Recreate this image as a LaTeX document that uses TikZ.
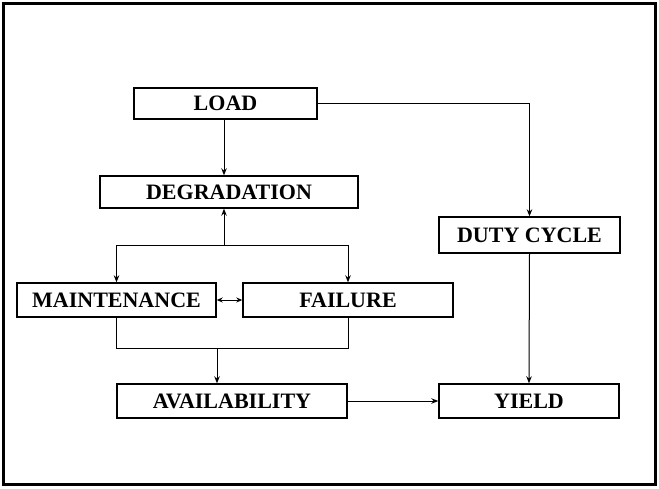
\documentclass[tikz,border=0pt]{standalone}
\usepackage{fontspec}
\setmainfont{Liberation Serif}
\usetikzlibrary{arrows.meta}
\begin{document}
\begin{tikzpicture}[x=1pt,y=-1pt,
  blk/.style={draw,line width=1.4pt,inner sep=0pt,font=\fontsize{22}{24}\selectfont\bfseries},
  arr/.style={line width=1pt,-{Stealth[length=7pt,width=5.5pt]}},
  ln/.style={line width=1pt}]
\useasboundingbox (0,0) rectangle (659,488);
\draw[line width=3pt] (3,3) rectangle (655,484);
\node[blk,minimum width=183pt,minimum height=31pt] (load) at (225.5,103.5) {LOAD};
\node[blk,minimum width=258pt,minimum height=32pt] (degr) at (229,192) {DEGRADATION};
\node[blk,minimum width=199pt,minimum height=34pt] (maint) at (116.5,300) {MAINTENANCE};
\node[blk,minimum width=210pt,minimum height=34pt] (fail) at (348,300) {FAILURE};
\node[blk,minimum width=230pt,minimum height=34pt] (avail) at (232,401) {AVAILABILITY};
\node[blk,minimum width=180pt,minimum height=34pt] (yield) at (529,401) {YIELD};
\node[blk,minimum width=181pt,minimum height=36pt] (duty) at (529.5,235) {DUTY CYCLE};
\coordinate (ld) at (224,119);
\coordinate (sp) at (224,245);
\coordinate (mg) at (217,348);
\draw[arr] (ld) -- (ld |- degr.north);
\draw[arr] (load.east) -| (duty.north);
\draw[arr] (duty.south) -- (yield.north);
\draw[arr] (sp) -- (sp |- degr.south);
\draw[arr] (sp) -| (maint.north);
\draw[arr] (sp) -| (fail.north);
\draw[ln] (maint.south) |- (mg);
\draw[ln] (fail.south) |- (mg);
\draw[arr] (mg) -- (mg |- avail.north);
\draw[line width=1pt,{Stealth[length=6pt,width=5pt]}-{Stealth[length=6pt,width=5pt]}] (maint.east) -- (fail.west);
\draw[arr] (avail.east) -- (yield.west);
\end{tikzpicture}
\end{document}
